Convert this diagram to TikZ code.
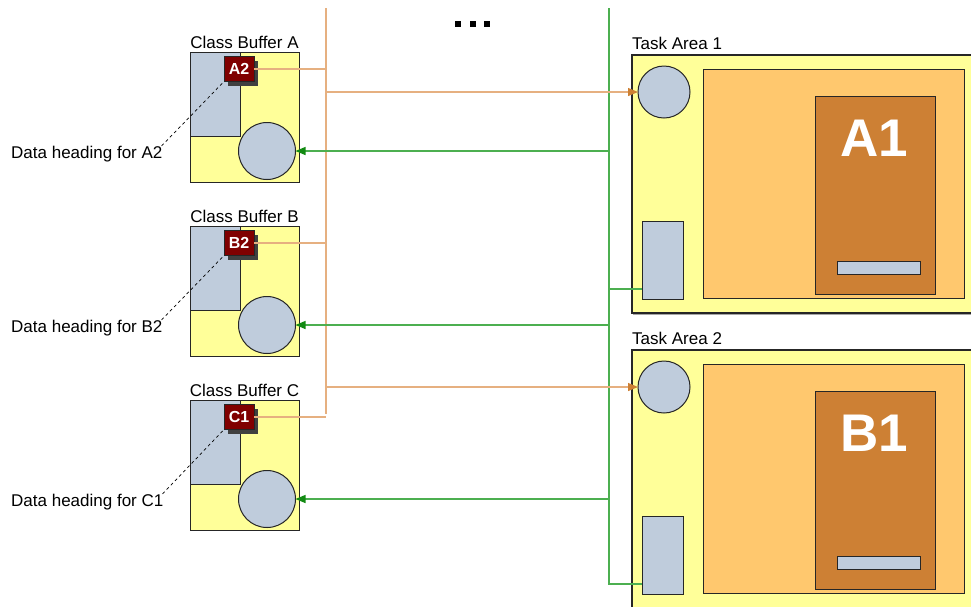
\documentclass[tikz,border=0pt]{standalone}
\usepackage{fontspec}
\setmainfont{Liberation Sans}
\usetikzlibrary{arrows.meta,shadows,positioning}
\definecolor{bufyel}{HTML}{FFFF99}
\definecolor{slate}{HTML}{BFCCDC}
\definecolor{lightor}{HTML}{FFC86E}
\definecolor{darkor}{HTML}{CD8034}
\definecolor{badgered}{HTML}{800000}
\definecolor{orline}{HTML}{E6B080}
\definecolor{grline}{HTML}{4CAF50}
\definecolor{grtip}{HTML}{128A12}

\begin{document}
\begin{tikzpicture}[x=1pt,y=-1pt,
  box/.style={draw=black!85,line width=1pt,inner sep=0pt,outer sep=0pt},
  title/.style={font=\fontsize{17}{20}\selectfont,inner sep=3pt},
  badge/.style={box,fill=badgered,text=white,font=\fontsize{16}{18}\bfseries,
    minimum width=30pt,minimum height=25pt,
    drop shadow={shadow xshift=4pt,shadow yshift=-4pt,fill=black!75,opacity=1}},
  oline/.style={draw=orline,line width=1.2pt},
  gline/.style={draw=grline,line width=1.2pt},
  otip/.style={-{Triangle[length=10pt,width=8pt,color=darkor]}},
  gtip/.style={-{Triangle[length=10pt,width=8pt,color=grtip]}}]
\clip (0,0) rectangle (971,606);

% the dots at the top
\foreach \x in {458,473,487}
  \fill (\x-3,21) rectangle (\x+3,27);

% bus lines
\coordinate (otop) at (326,8);
\coordinate (obot) at (326,414);
\coordinate (gtop) at (609,8);
\coordinate (gbot) at (609,585);
\draw[oline] (otop) -- (obot);
\draw[gline] (gtop) -- (gbot);

% class buffers
\foreach \n/\y/\b in {A/52/A2,B/226/B2,C/400/C1}{
  \node[box,fill=bufyel,minimum width=109pt,minimum height=130pt,anchor=north west] (buf\n) at (190,\y) {};
  \node[title,anchor=south] at (buf\n.north) {Class Buffer \n};
  \node[box,fill=slate,minimum width=50pt,minimum height=84pt,anchor=north west] (rb\n) at (buf\n.north west) {};
  \node[box,fill=slate,circle,minimum size=57pt] (cb\n) at (267,\y+99) {};
  \node[badge] (bdg\n) at (239,\y+17) {\b};
  \node[title,anchor=west] (lbl\n) at (8,\y+102) {Data heading for \b};
  \draw[dashed,line width=0.7pt] ([shift={(-4,3)}]lbl\n.north east) -- (bdg\n.south west);
  \draw[oline] (bdg\n.east) -- (bdg\n.east -| otop);
  \draw[gline,gtip] (gtop |- cb\n.east) -- (cb\n.east);
}

% task areas
\foreach \n/\t/\h/\lab in {1/55/258/A1,2/350/300/B1}{
  \node[box,line width=1.4pt,fill=bufyel,minimum width=360pt,minimum height=\h pt,anchor=north west,
    drop shadow={shadow xshift=1pt,shadow yshift=-1.5pt,fill=black!35,opacity=1}] (ta\n) at (632,\t) {};
  \node[title,anchor=south west,inner xsep=0pt,inner ysep=5pt] at (ta\n.north west) {Task Area \n};
  \node[box,fill=slate,circle,minimum size=52pt] (ct\n) at (664,\t+37) {};
  \node[box,fill=slate,minimum width=41pt,minimum height=78pt,anchor=north west] (rt\n) at (642,\t+166) {};
  \node[box,fill=lightor,minimum width=261pt,minimum height=229pt,anchor=north west] (ot\n) at (703,\t+14) {};
  \node[box,fill=darkor,minimum width=120pt,minimum height=198pt,anchor=north west] (dt\n) at (815,\t+41) {};
  \node[text=white,font=\fontsize{53}{57}\bfseries\selectfont] at (874,\t+83) {\lab};
  \node[box,fill=slate,minimum width=83pt,minimum height=13pt,anchor=north west] (bar\n) at (837,\t+206) {};
  \draw[gline] ([yshift=10pt]rt\n.south west -| gtop) -- ([yshift=10pt]rt\n.south west);
}
\draw[oline,otip] (otop |- ct1.west) -- (ct1.west);
\draw[oline,otip] (otop |- ct2.west) -- (ct2.west);
\end{tikzpicture}
\end{document}
